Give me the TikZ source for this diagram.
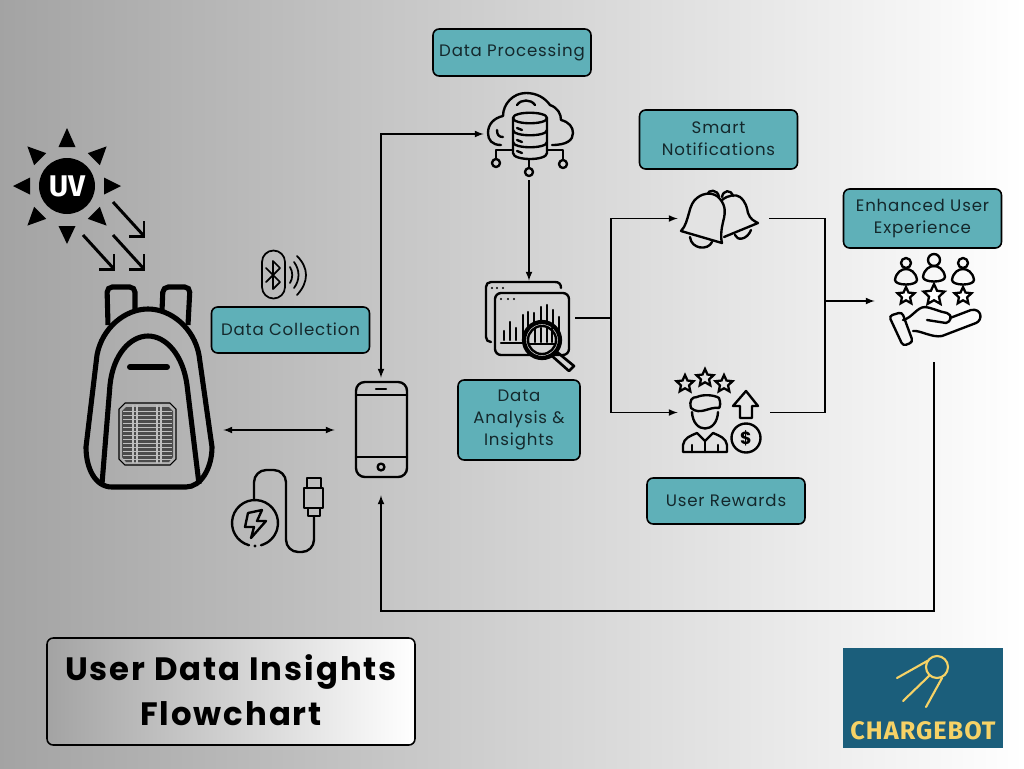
\documentclass[tikz,border=0pt]{standalone}
\usepackage{fontspec}
\setmainfont{Poppins}
\newfontfamily\labelfont[LetterSpace=5]{Poppins}
\newfontfamily\titlefont[LetterSpace=6]{Poppins}
\newfontfamily\logofont[LetterSpace=4]{Fira Sans}
\newfontfamily\uvfont{Fira Sans}
\usepackage{tikz}
\usetikzlibrary{positioning,arrows,shapes,calc}
\definecolor{tealbox}{HTML}{5FB0B8}
\definecolor{inktext}{HTML}{14282C}
\definecolor{logoblue}{HTML}{1B5E7B}
\definecolor{logoyellow}{HTML}{F6D266}

\begin{document}
\begin{tikzpicture}[
  x=0.02cm,y=-0.02cm,
  labelbox/.style={rectangle,draw=black,line width=0.9pt,rounded corners=3.5pt,fill=tealbox,align=center,text=inktext,inner sep=0pt,font=\labelfont\fontsize{9.45}{12.5}\selectfont},
  iconspot/.style={rectangle,inner sep=0pt},
  link/.style={line width=0.75pt,black},
  arrow/.style={link,->,>=latex},
  biarrow/.style={link,<->,>=latex},
  icon/.style={line width=1.35pt,black,line join=round,line cap=round},
  ratestar/.style={star,star points=5,star point ratio=2.1,draw=black,line width=1.3pt,inner sep=0pt,minimum size=#1},
]
\useasboundingbox (0,0) rectangle (1024,768);

% Background
\shade[left color=black!36,right color=white] (0,0) rectangle (1024,768);

% Anchors of the icons
\node[iconspot,minimum width=3cm,minimum height=4cm] (pack) at (148,430) {};
\node[iconspot,minimum width=1.84cm,minimum height=2.08cm] (phone) at (381,430) {};
\node[iconspot,minimum width=1.8cm,minimum height=1.84cm] (cloud) at (529,134) {};
\node[iconspot,minimum width=1.84cm,minimum height=1.48cm] (analysis) at (529,318) {};
\node[iconspot,minimum width=1.82cm,minimum height=1.2cm] (bells) at (723.5,218.5) {};
\node[iconspot,minimum width=1.84cm,minimum height=1.6cm] (rewards) at (724,412.5) {};
\node[iconspot,minimum width=2.36cm,minimum height=2.44cm] (ux) at (934,301) {};
\coordinate (split) at (611,318);
\coordinate (merge) at (825,301);

% Labels
\node[labelbox,minimum width=3.16cm,minimum height=.94cm] (processing) at (512,52.5) {Data Processing};
\node[labelbox,minimum width=3.16cm,minimum height=.92cm,text depth=1.2pt] (collection) at (290.5,330) {Data Collection};
\node[labelbox,minimum width=2.44cm,minimum height=1.6cm] (insights) at (519,420) {Data\\Analysis \&\\Insights};
\node[labelbox,minimum width=3.16cm,minimum height=1.18cm,text depth=.8pt] (notify) at (718.5,139.5) {Smart\\Notifications};
\node[labelbox,minimum width=3.16cm,minimum height=1.18cm] (enhanced) at (922.5,218.5) {Enhanced User\\Experience};
\node[labelbox,minimum width=3.16cm,minimum height=.92cm,text depth=.8pt] (userrewards) at (726,501) {User Rewards};

% Title
\node[rectangle,draw=black,line width=0.9pt,rounded corners=3.5pt,left color=black!36,right color=white,minimum width=7.36cm,minimum height=2.14cm,align=center,text=black,text depth=2pt,font=\titlefont\fontsize{18.4}{25.6}\selectfont\bfseries] (title) at (231,691.5) {User Data Insights\\Flowchart};

% Logo
\node[rectangle,fill=logoblue,minimum width=3.2cm,minimum height=2cm] (logo) at (923,698) {};
\node[text=logoyellow,inner sep=0pt,font=\logofont\fontsize{14.4}{16}\selectfont\bfseries] (logotext) at (923,731) {CHARGEBOT};
\draw[logoyellow,line width=1.2pt,line cap=round] (937,667) circle[radius=11]
  (897,678) -- (929,660) (903,701) -- (930,675) (926,707) -- (942,678);

% Connectors
\draw[biarrow] (pack.east) -- (phone.west);
\draw[biarrow] (phone.north) |- (cloud.west);
\draw[arrow] (cloud.south) -- (analysis.north);
\draw[link] (analysis.east) -- (split);
\draw[arrow] (split) |- (bells.west);
\draw[arrow] (split) |- (rewards.west);
\draw[link] (bells.east) -| (merge);
\draw[link] (rewards.east) -| (merge);
\draw[arrow] (merge) -- (ux.west);
\draw[arrow,shorten >=0.26cm] (ux.south) |- (381,611) -- (phone.south);

% Sun
\fill[black] (67,186) circle[radius=28];
\foreach \a/\b/\t in {0/104/121,45/105/123,90/106/125,135/105/123,180/104/121,225/105/123,270/107/125,315/105/123}{
  \fill[black,rotate around={\a:(67,186)}] (\b,177.5) -- (\t,186) -- (\b,194.5) -- cycle;
}
\node[text=white,inner sep=0pt,font=\uvfont\fontsize{17}{17}\selectfont\bfseries] (uvtext) at (67,186) {UV};
\foreach \u/\v in {144/236,114/269,144/269}{
  \draw[line width=1.7pt,black] (\u-31,\v-34) -- (\u,\v);
  \draw[line width=1.7pt,black] (\u-15,\v) -- (\u,\v) -- (\u,\v-15);
}

% Backpack
\draw[line width=2.9pt,black,line join=round] (112,487)
  .. controls (95,487) and (86,468) .. (86,447) -- (97,355)
  .. controls (102,328) and (125,309) .. (148,309)
  .. controls (171,309) and (194,328) .. (199,355) -- (212,447)
  .. controls (212,468) and (201,487) .. (186,487) -- cycle;
\draw[line width=2.9pt,black] (102,484) -- (110,385) .. controls (113,355) and (130,336) .. (148,336)
  .. controls (166,336) and (183,355) .. (187,385) -- (199,484);
\draw[line width=2.9pt,black,rounded corners=3pt] (108,325) -- (107,287) -- (135,287) -- (135,311);
\draw[line width=2.9pt,black,rounded corners=3pt] (162,311) -- (163,287) -- (190,287) -- (188,325);
\draw[line width=3.4pt,black,line cap=round] (130,367) -- (167,367);
\draw[line width=0.6pt,black] (125,403) -- (170,403) -- (176,409) -- (176,459) -- (170,465) -- (125,465) -- (119,459) -- (119,409) -- cycle;
\fill[black!70] (126,407) -- (169,407) -- (173,411) -- (173,457) -- (169,462) -- (126,462) -- (122,457) -- (122,411) -- cycle;
\foreach \v in {411,415,...,459}{
  \draw[black!25,line width=0.55pt] (123,\v) -- (172,\v);
}
\draw[black!25,line width=0.6pt] (133,405) -- (133,463) (137,405) -- (137,463) (157,405) -- (157,463) (161,405) -- (161,463);

% Bluetooth
\draw[icon,line width=1pt] (262,262) arc[start angle=180,end angle=360,radius=11.5] -- (285,287) arc[start angle=0,end angle=180,radius=11.5] -- cycle;
\draw[icon,line width=1pt] (266,268) -- (280,282) -- (273,289) -- (273,261) -- (280,268) -- (266,282);
\draw[icon,line width=1pt] (290,267) .. controls (293,272) and (293,278) .. (290,283)
  (294,262) .. controls (300,270) and (300,280) .. (294,288)
  (297,256) .. controls (309,268) and (309,282) .. (297,295);

% Charger
\draw[icon] ([shift={(105:23)}]255,523) arc[start angle=105,end angle=435,radius=23];
\fill[black] (255,546) circle[radius=1.6];
\draw[icon] (248,513) -- (262,510) -- (257,521) -- (266,521) -- (251,538) -- (254,527) -- (245,527) -- cycle;
\draw[icon,rounded corners=7pt] (254,500) -- (254,470) -- (286,470) -- (286,552) -- (314,552) -- (314,517);
\draw[icon] (307,488) -- (307,478) -- (321,478) -- (321,488) (304,488) rectangle (323,508) (308,508) rectangle (320,516);

% Phone
\draw[icon,rounded corners=5pt] (356,382) rectangle (407,477);
\draw[icon] (356,395) -- (407,395) (356,457) -- (407,457);
\draw[icon] (376,389) -- (386,389);
\draw[icon] (381,467) circle[radius=3.4];

% Cloud with database
\draw[icon] (501,145) .. controls (492,145) and (488,140) .. (488,133)
  .. controls (488,124) and (494,118) .. (503,116)
  .. controls (503,104) and (513,93) .. (526,93)
  .. controls (537,93) and (545,98) .. (550,105)
  .. controls (558,108) and (561,114) .. (561,120)
  .. controls (569,122) and (573,127) .. (573,133)
  .. controls (573,140) and (567,145) .. (552,145);
\draw[icon] (517,105) .. controls (521,99) and (531,99) .. (535,105);
\draw[icon] (497,130) .. controls (497,135) and (499,137) .. (503,137);
\draw[icon,fill=black!17] (513,118) .. controls (513,111) and (547,111) .. (547,118) -- (547,153)
  .. controls (547,161) and (513,161) .. (513,153) -- cycle;
\draw[icon] (513,118) .. controls (513,125) and (547,125) .. (547,118)
  (513,130) .. controls (513,137) and (547,137) .. (547,130)
  (513,142) .. controls (513,149) and (547,149) .. (547,142);
\draw[icon] (517,128) -- (522,130) (517,140) -- (522,142) (517,151) -- (522,153);
\draw[icon] (513,150) -- (496,150) -- (496,159) (547,150) -- (563,150) -- (563,160) (529,160) -- (529,168);
\draw[icon] (496,163) circle[radius=4] (563,164) circle[radius=4] (529,172) circle[radius=4];

% Analysis window
\draw[icon] (561,288) .. controls (561,284) and (559,282) .. (555,282) -- (491,282)
  .. controls (488,282) and (486,284) .. (486,287) -- (486,337) .. controls (486,340) and (488,342) .. (491,342);
\draw[icon,rounded corners=3.5pt] (495,293) rectangle (569,355);
\draw[icon] (501,343) -- (522,343);
\foreach \u in {492,497,503}{ \fill[black] (\u,288) circle[radius=1.2]; }
\foreach \u in {501,508,514}{ \fill[black] (\u,299) circle[radius=1.2]; }
\foreach \u/\v in {504/331,510/322,516/328,523/315,528/312,534/313,541/307,547/305,553/310,559/317}{
  \draw[icon] (\u,340) -- (\u,\v);
}
\fill[black!17] (542,340) circle[radius=17];
\draw[icon,line width=2.4pt] (542,340) circle[radius=18];
\draw[icon] (542,340) circle[radius=14];
\foreach \u in {535,541,547,552}{ \draw[icon] (\u,328) -- (\u,342); }
\draw[icon] (529,344) -- (555,344);
\draw[icon,line width=1.5pt] (552,356) -- (557,352) -- (574,366) -- (569,371) -- cycle;

% Bells
\draw[icon] (722,197) .. controls (723,190) and (731,189) .. (733,196);
\draw[icon] (735,235) .. controls (737,241) and (747,240) .. (751,230);
\draw[icon] (722,200) .. controls (728,195) and (736,194) .. (740,197)
  .. controls (746,202) and (747,208) .. (748,213)
  .. controls (750,219) and (754,221) .. (758,223) -- (724,237);
\draw[icon] (707,195) .. controls (708,189) and (718,189) .. (719,197);
\draw[icon] (690,237) .. controls (691,249) and (708,251) .. (712,242);
\draw[icon,fill=black!11] (681,231) .. controls (686,226) and (687,219) .. (689,213)
  .. controls (691,205) and (693,201) .. (697,198)
  .. controls (704,192) and (715,192) .. (720,199)
  .. controls (726,206) and (725,213) .. (724,218)
  .. controls (722,226) and (720,235) .. (722,243) -- cycle;

% User rewards
\node[ratestar=.36cm] (rstarA) at (685,384) {};
\node[ratestar=.36cm] (rstarB) at (705,378) {};
\node[ratestar=.36cm] (rstarC) at (724,384) {};
\draw[icon] (692,412) .. controls (693,434) and (717,434) .. (718,412);
\draw[icon] (691,408) .. controls (689,400) and (692,397) .. (697,397)
  .. controls (703,394) and (715,395) .. (719,398) .. controls (721,403) and (720,407) .. (719,408)
  .. controls (710,406) and (700,416) .. (691,408) -- cycle;
\draw[icon] (683,452) -- (683,445) .. controls (684,438) and (690,436) .. (697,433)
  -- (705,441) -- (713,433) .. controls (720,436) and (726,438) .. (727,445) -- (727,452) -- cycle;
\draw[icon] (692,445) -- (692,452) (718,445) -- (718,452) (705,441) -- (705,452);
\draw[icon] (746,391) -- (733,406) -- (740,406) -- (740,418) -- (752,418) -- (752,406) -- (758,406) -- cycle;
\draw[icon] (746,438) circle[radius=14.5];
\node[inner sep=0pt,text=black,font=\fontsize{10}{10}\selectfont\bfseries] (dollar) at (746,438) {\$};

% Enhanced experience
\foreach \u/\v/\r in {906/263/5,934/260/6,963/263/5}{
  \draw[icon] (\u,\v) circle[radius=\r];
  \draw[icon] (\u-11,\v+17) .. controls (\u-10,\v+9) and (\u-4,\v+6) .. (\u,\v+6) .. controls (\u+4,\v+6) and (\u+10,\v+9) .. (\u+11,\v+17)
    .. controls (\u+11,\v+23) and (\u-11,\v+23) .. (\u-11,\v+17) -- cycle;
}
\node[ratestar=.36cm,fill=white] (xstarA) at (906,296) {};
\node[ratestar=.44cm,fill=white] (xstarB) at (934,295) {};
\node[ratestar=.36cm,fill=white] (xstarC) at (963,296) {};
\draw[icon,rounded corners=2pt] (889,316) -- (902,312) -- (913,342) -- (903,346) -- cycle;
\draw[icon] (903,320) .. controls (912,318) and (917,307) .. (925,307)
  .. controls (933,308) and (940,312) .. (947,313)
  .. controls (953,315) and (951,322) .. (946,323) -- (927,320)
  (950,318) -- (971,310) .. controls (982,308) and (983,320) .. (976,323)
  -- (942,336) .. controls (932,338) and (920,330) .. (913,331);
\end{tikzpicture}
\end{document}
